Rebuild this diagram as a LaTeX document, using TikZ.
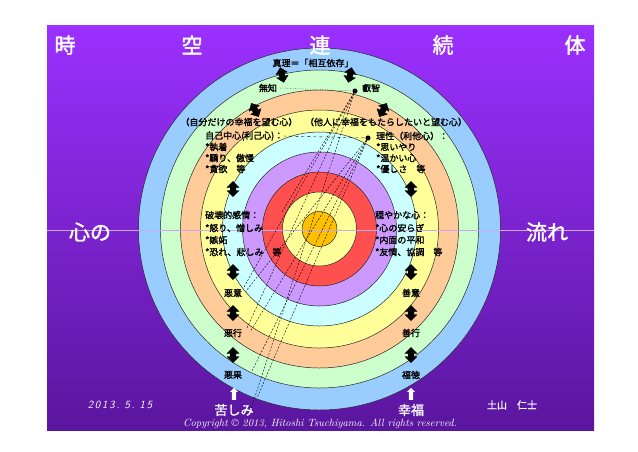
\documentclass[tikz,border=0pt]{standalone}
\usepackage{fontspec}
\newfontfamily\jp[AutoFakeBold=1.6]{Noto Sans CJK JP}
\usetikzlibrary{shapes,arrows}

\definecolor{slidetop}{HTML}{9B30FF}
\definecolor{slidebot}{HTML}{5A169E}
\definecolor{ringblue}{HTML}{99CCFF}
\definecolor{ringgreen}{HTML}{CCFFCC}
\definecolor{ringsalmon}{HTML}{FFCC99}
\definecolor{ringyellow}{HTML}{FFFF99}
\definecolor{ringcyan}{HTML}{CCFFFF}
\definecolor{ringlav}{HTML}{CC99FF}
\definecolor{ringred}{HTML}{FF5050}
\definecolor{ringgold}{HTML}{FFC000}
\definecolor{axisline}{HTML}{C9A9F2}

\tikzset{
  ring/.style={draw=black!85, line width=0.5pt},
  lbl/.style={font=\jp\bfseries\fontsize{9}{11}\selectfont, inner sep=0pt, anchor=west},
  lblc/.style={font=\jp\bfseries\fontsize{9}{11}\selectfont, inner sep=0pt},
  bigchar/.style={font=\jp\bfseries\fontsize{21}{21}\selectfont, text=white, inner sep=0pt},
  updown/.style={double arrow, fill=black, draw=black, inner sep=2.6pt,
    minimum height=15pt, double arrow head extend=3pt},
  upwhite/.style={single arrow, fill=white, inner sep=2pt,
    minimum height=12pt, single arrow head extend=1.8pt, rotate=90},
  fan/.style={dash pattern=on 2pt off 1.5pt, line width=0.4pt},
  marker/.style={circle, fill=black, inner sep=1.8pt}
}

\begin{document}
\begin{tikzpicture}[x=1pt,y=-1pt]
    \fill[white] (0,0) rectangle (638,451);
    \useasboundingbox (0,0) rectangle (638,451);
    \shade[top color=slidetop, bottom color=slidebot] (47,25) rectangle (594,430);

    \coordinate (ctr) at (319.5,229);
    \coordinate (axL) at (47,230);
    \coordinate (axR) at (594,230);

    % rings from outside in
    \foreach \r/\c in {181/ringblue, 159/ringgreen, 139/ringsalmon, 119/ringyellow,
                       97/ringcyan, 77/ringlav, 57/ringred, 37/ringyellow, 17.5/ringgold}
      \draw[ring, fill=\c] (ctr) circle (\r pt);

    \draw[axisline, line width=0.6pt] (axL) -- (axR);

    % title row and side words
    \node[bigchar] (t1) at (65,45) {時};
    \node[bigchar] (t2) at (192,45) {空};
    \node[bigchar] (t3) at (320,45) {連};
    \node[bigchar] (t4) at (443,45) {続};
    \node[bigchar] (t5) at (575,45) {体};
    \node[bigchar] (kokoro) at (90,232) {心の};
    \node[bigchar] (nagare) at (547,232) {流れ};

    % upper labels
    \node[lblc] (shinri) at (313,63) {真理＝「相互依存」};
    \node[lblc] (muchi) at (268,88) {無知};
    \node[lbl] (eiji) at (362,88) {叡智};
    \node[marker] (eijiPt) at (355,91) {};
    \node[lblc] (jibun) at (239,122) {（自分だけの幸福を望む心）};
    \node[lblc] (tanin) at (386,122) {（他人に幸福をもたらしたいと望む心）};

    \node[updown, rotate=103.5] (a1) at (282,75) {};
    \node[updown, rotate=77.9] (a2) at (350,75) {};
    \node[updown, rotate=118.7] (a3) at (255,110) {};
    \node[updown, rotate=61.7] (a4) at (383,110) {};

    % left column
    \node[lbl] (jiko) at (205,136) {自己中心(利己心)：};
    \node[lbl] (l1) at (205,147) {*執着};
    \node[lbl] (l2) at (205,158) {*驕り、傲慢};
    \node[lbl] (l3) at (205,169) {*貪欲　等};
    \node[lbl] (hakai) at (205,215) {破壊的感情：};
    \node[lbl] (l4) at (205,228) {*怒り、憎しみ};
    \node[lbl] (l5) at (205,240) {*嫉妬};
    \node[lbl] (l6) at (205,252) {*恐れ、悲しみ　等};
    \node[lblc] (akui) at (233,293) {悪意};
    \node[lblc] (akugyo) at (233,333) {悪行};
    \node[lblc] (akka) at (233,375) {悪果};

    % right column
    \node[lbl] (risei) at (376,136) {理性（利他心）：};
    \node[marker] (riseiPt) at (368,138) {};
    \node[lbl] (r1) at (376,147) {*思いやり};
    \node[lbl] (r2) at (376,158) {*温かい心};
    \node[lbl] (r3) at (376,169) {*優しさ　等};
    \node[lbl] (odaya) at (375,215) {穏やかな心：};
    \node[lbl] (r4) at (375,228) {*心の安らぎ};
    \node[lbl] (r5) at (375,240) {*内面の平和};
    \node[lbl] (r6) at (375,252) {*友情、協調　等};
    \node[lblc] (zeni) at (411,293) {善意};
    \node[lblc] (zenko) at (411,333) {善行};
    \node[lblc] (fukutoku) at (411,375) {福徳};

    % up-down arrows of both columns
    \foreach \y [count=\i] in {189,272,313,355} {
      \node[updown, rotate=90] (la\i) at (233,\y) {};
      \node[updown, rotate=90] (ra\i) at (411,\y) {};
    }

    % bottom
    \node[upwhite] (wl) at (234,395) {};
    \node[upwhite] (wr) at (411,395) {};
    \node[font=\jp\bfseries\fontsize{13}{13}\selectfont, text=white, inner sep=0pt] (kurushimi) at (234,410) {苦しみ};
    \node[font=\jp\bfseries\fontsize{13}{13}\selectfont, text=white, inner sep=0pt] (kofuku) at (411,410) {幸福};
    \node[font=\sffamily\slshape\fontsize{11}{11}\selectfont, text=white, inner sep=0pt] (date) at (120,405) {2\,0\,1\,3\,.\;\,5\,.\;\,1\,5};
    \node[font=\jp\bfseries\fontsize{10}{10}\selectfont, text=white, inner sep=0pt] (author) at (512,405) {土山　仁士};
    \node[font=\itshape\fontsize{10.5}{10.5}\selectfont, text=white, inner sep=0pt] (copy) at (320,424)
      {Copyright \textcopyright\ 2013, Hitoshi Tsuchiyama. All rights reserved.};

    % dotted and dashed links
    \draw[dotted, line width=0.5pt] (muchi.east) ++(3,0) coordinate (m0) (m0) -- (eijiPt);
    \draw[dashed, line width=0.4pt] (jiko.east) -- (riseiPt);

    \coordinate (e1) at (282,212);
    \coordinate (e2) at (244,287);
    \coordinate (e3) at (247,328);
    \coordinate (e4) at (251,409);
    \coordinate (s1) at (246,291);
    \coordinate (s2) at (250,332);
    \coordinate (s3) at (252,371);
    \coordinate (s4) at (257,398);
    \foreach \t in {e1,e2,e3,e4}
      \draw[fan] (eijiPt) -- (\t);
    \foreach \t in {s1,s2,s3,s4}
      \draw[fan] (riseiPt) -- (\t);
\end{tikzpicture}
\end{document}
